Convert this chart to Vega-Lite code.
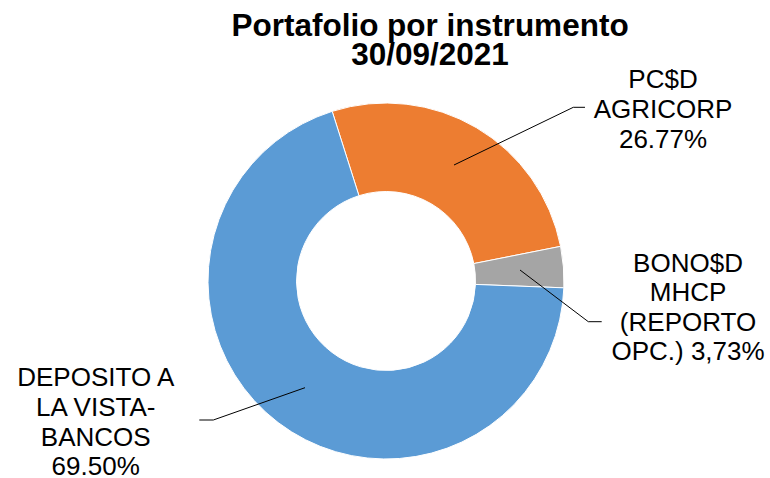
{
  "$schema": "https://vega.github.io/schema/vega-lite/v6.json",
  "width": 770,
  "height": 394,
  "autosize": {"type": "none"},
  "padding": {"left": 1, "top": 84, "right": 0, "bottom": 0},
  "background": "white",
  "config": {"view": {"stroke": null}, "font": "Liberation Sans"},
  "title": {
    "text": ["Portafolio por instrumento", "30/09/2021"],
    "font": "Liberation Sans",
    "fontSize": 31.5,
    "fontWeight": "bold",
    "color": "#000000",
    "lineHeight": 29,
    "anchor": "middle",
    "dx": 44,
    "offset": -5
  },
  "data": {
    "values": [
      {"instrumento": "PC$D AGRICORP", "porcentaje": 26.77, "etiqueta": "PC$D\nAGRICORP\n26.77%"},
      {"instrumento": "BONO$D MHCP (REPORTO OPC.)", "porcentaje": 3.73, "etiqueta": "BONO$D\nMHCP\n(REPORTO\nOPC.) 3,73%"},
      {"instrumento": "DEPOSITO A LA VISTA-BANCOS", "porcentaje": 69.5, "etiqueta": "DEPOSITO A\nLA VISTA-\nBANCOS\n69.50%"}
    ]
  },
  "layer": [
    {
      "mark": {"type": "arc", "innerRadius": 89.5, "outerRadius": 178, "stroke": "#ffffff", "strokeWidth": 1},
      "encoding": {
        "theta": {"field": "porcentaje", "type": "quantitative", "stack": true, "scale": {"domain": [0, 100], "range": [1.6092, 7.8924]}},
        "order": {"field": "porcentaje", "sort": "descending"},
        "color": {
          "field": "instrumento",
          "type": "nominal",
          "scale": {"domain": ["PC$D AGRICORP", "BONO$D MHCP (REPORTO OPC.)", "DEPOSITO A LA VISTA-BANCOS"], "range": ["#ED7D31", "#A5A5A5", "#5B9BD5"]},
          "legend": null
        }
      }
    },
    {
      "transform": [
        {"stack": "porcentaje", "groupby": [], "sort": [{"field": "porcentaje", "order": "descending"}], "as": ["inicio", "fin"]},
        {"filter": "datum.instrumento === 'PC$D AGRICORP'"}
      ],
      "mark": {"type": "text", "radius": 342.4, "thetaOffset": 1.2497, "font": "Liberation Sans", "fontSize": 26, "lineHeight": 30, "lineBreak": "\n", "align": "center", "baseline": "middle", "color": "#000000"},
      "encoding": {
        "theta": {"field": "inicio", "type": "quantitative", "stack": null, "scale": {"domain": [0, 100], "range": [1.6092, 7.8924]}},
        "text": {"field": "etiqueta"}
      }
    },
    {
      "transform": [
        {"stack": "porcentaje", "groupby": [], "sort": [{"field": "porcentaje", "order": "descending"}], "as": ["inicio", "fin"]},
        {"filter": "datum.instrumento === 'BONO$D MHCP (REPORTO OPC.)'"}
      ],
      "mark": {"type": "text", "radius": 302.5, "thetaOffset": 0.1390, "font": "Liberation Sans", "fontSize": 26, "lineHeight": 29.5, "lineBreak": "\n", "align": "center", "baseline": "middle", "color": "#000000"},
      "encoding": {
        "theta": {"field": "inicio", "type": "quantitative", "stack": null, "scale": {"domain": [0, 100], "range": [1.6092, 7.8924]}},
        "text": {"field": "etiqueta"}
      }
    },
    {
      "transform": [
        {"stack": "porcentaje", "groupby": [], "sort": [{"field": "porcentaje", "order": "descending"}], "as": ["inicio", "fin"]},
        {"filter": "datum.instrumento === 'DEPOSITO A LA VISTA-BANCOS'"}
      ],
      "mark": {"type": "text", "radius": 306.1, "thetaOffset": 2.7803, "font": "Liberation Sans", "fontSize": 26, "lineHeight": 29.7, "lineBreak": "\n", "align": "center", "baseline": "middle", "color": "#000000"},
      "encoding": {
        "theta": {"field": "inicio", "type": "quantitative", "stack": null, "scale": {"domain": [0, 100], "range": [1.6092, 7.8924]}},
        "text": {"field": "etiqueta"}
      }
    },
    {
      "transform": [{"filter": "datum.instrumento === 'PC$D AGRICORP'"}],
      "mark": {"type": "rule", "color": "#000000", "strokeWidth": 1},
      "encoding": {
        "x": {"datum": 68, "type": "quantitative", "scale": {"domain": [-385, 385], "nice": false, "zero": false}, "axis": null},
        "y": {"datum": -116, "type": "quantitative", "scale": {"domain": [-197, 197], "nice": false, "zero": false, "reverse": true}, "axis": null},
        "x2": {"datum": 187.3},
        "y2": {"datum": -173.7}
      }
    },
    {
      "transform": [{"filter": "datum.instrumento === 'PC$D AGRICORP'"}],
      "mark": {"type": "rule", "color": "#000000", "strokeWidth": 1},
      "encoding": {
        "x": {"datum": 187.3, "type": "quantitative", "scale": {"domain": [-385, 385], "nice": false, "zero": false}, "axis": null},
        "y": {"datum": -173.7, "type": "quantitative", "scale": {"domain": [-197, 197], "nice": false, "zero": false, "reverse": true}, "axis": null},
        "x2": {"datum": 199},
        "y2": {"datum": -173.7}
      }
    },
    {
      "transform": [{"filter": "datum.instrumento === 'BONO$D MHCP (REPORTO OPC.)'"}],
      "mark": {"type": "rule", "color": "#000000", "strokeWidth": 1},
      "encoding": {
        "x": {"datum": 134, "type": "quantitative", "scale": {"domain": [-385, 385], "nice": false, "zero": false}, "axis": null},
        "y": {"datum": -11, "type": "quantitative", "scale": {"domain": [-197, 197], "nice": false, "zero": false, "reverse": true}, "axis": null},
        "x2": {"datum": 202.3},
        "y2": {"datum": 40.7}
      }
    },
    {
      "transform": [{"filter": "datum.instrumento === 'BONO$D MHCP (REPORTO OPC.)'"}],
      "mark": {"type": "rule", "color": "#000000", "strokeWidth": 1},
      "encoding": {
        "x": {"datum": 202.3, "type": "quantitative", "scale": {"domain": [-385, 385], "nice": false, "zero": false}, "axis": null},
        "y": {"datum": 40.7, "type": "quantitative", "scale": {"domain": [-197, 197], "nice": false, "zero": false, "reverse": true}, "axis": null},
        "x2": {"datum": 215.7},
        "y2": {"datum": 40.7}
      }
    },
    {
      "transform": [{"filter": "datum.instrumento === 'DEPOSITO A LA VISTA-BANCOS'"}],
      "mark": {"type": "rule", "color": "#000000", "strokeWidth": 1},
      "encoding": {
        "x": {"datum": -81, "type": "quantitative", "scale": {"domain": [-385, 385], "nice": false, "zero": false}, "axis": null},
        "y": {"datum": 106.7, "type": "quantitative", "scale": {"domain": [-197, 197], "nice": false, "zero": false, "reverse": true}, "axis": null},
        "x2": {"datum": -172.7},
        "y2": {"datum": 139}
      }
    },
    {
      "transform": [{"filter": "datum.instrumento === 'DEPOSITO A LA VISTA-BANCOS'"}],
      "mark": {"type": "rule", "color": "#000000", "strokeWidth": 1},
      "encoding": {
        "x": {"datum": -172.7, "type": "quantitative", "scale": {"domain": [-385, 385], "nice": false, "zero": false}, "axis": null},
        "y": {"datum": 139, "type": "quantitative", "scale": {"domain": [-197, 197], "nice": false, "zero": false, "reverse": true}, "axis": null},
        "x2": {"datum": -186.7},
        "y2": {"datum": 139}
      }
    }
  ]
}
